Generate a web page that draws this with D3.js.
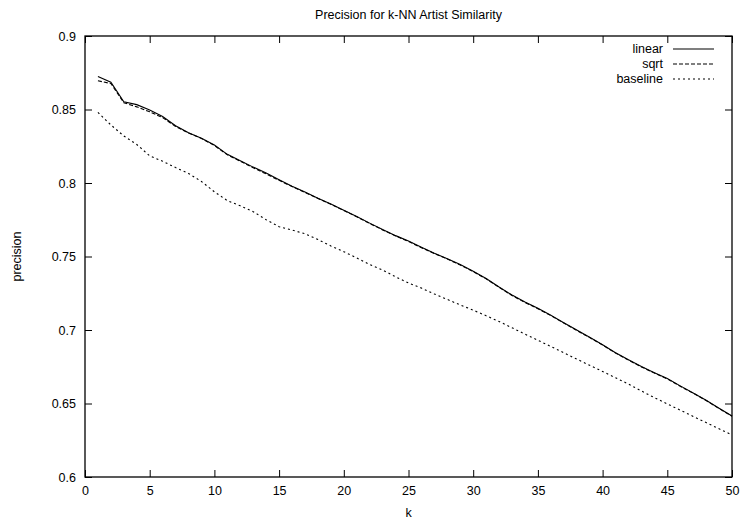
<!DOCTYPE html>
<html>
<head>
<meta charset="utf-8">
<script src="https://cdn.jsdelivr.net/npm/d3@7"></script>
<style>
  body { margin: 0; background: #fff; }
  svg { display: block; font-family: "Liberation Sans", Arial, sans-serif; }
</style>
</head>
<body>
<div id="chart"></div>
<script>
// values
const kValues = d3.range(1, 51);

const linear = [
  0.8725, 0.8685, 0.8552, 0.8533, 0.8497, 0.8452, 0.8390, 0.8342, 0.8305, 0.8258,
  0.8195, 0.8152, 0.8108, 0.8068, 0.8022, 0.7978, 0.7938, 0.7897, 0.7857, 0.7815,
  0.7772, 0.7727, 0.7683, 0.7642, 0.7605, 0.7563, 0.7522, 0.7485, 0.7445, 0.7400,
  0.7350, 0.7292, 0.7238, 0.7190, 0.7148, 0.7100, 0.7050, 0.7000, 0.6950, 0.6900,
  0.6845, 0.6797, 0.6752, 0.6710, 0.6670, 0.6620, 0.6572, 0.6522, 0.6468, 0.6415
];

const sqrt = [
  0.8695, 0.8677, 0.8546, 0.8518, 0.8484, 0.8445, 0.8385, 0.8340, 0.8303, 0.8255,
  0.8192, 0.8148, 0.8103, 0.8062, 0.8018, 0.7976, 0.7935, 0.7895, 0.7855, 0.7813,
  0.7770, 0.7725, 0.7681, 0.7640, 0.7602, 0.7560, 0.7520, 0.7483, 0.7442, 0.7397,
  0.7348, 0.7290, 0.7235, 0.7187, 0.7145, 0.7098, 0.7047, 0.6997, 0.6948, 0.6898,
  0.6843, 0.6795, 0.6749, 0.6707, 0.6667, 0.6617, 0.6570, 0.6520, 0.6466, 0.6413
];

const baseline = [
  0.8480, 0.8395, 0.8320, 0.8262, 0.8185, 0.8148, 0.8105, 0.8065, 0.8010, 0.7940,
  0.7880, 0.7845, 0.7805, 0.7750, 0.7703, 0.7680, 0.7655, 0.7615, 0.7572, 0.7533,
  0.7490, 0.7445, 0.7408, 0.7362, 0.7320, 0.7285, 0.7245, 0.7208, 0.7170, 0.7135,
  0.7097, 0.7058, 0.7015, 0.6972, 0.6930, 0.6888, 0.6845, 0.6802, 0.6760, 0.6718,
  0.6675, 0.6632, 0.6585, 0.6540, 0.6497, 0.6455, 0.6412, 0.6370, 0.6328, 0.6286
];

const xTicks = d3.range(0, 51, 5);
const yTicks = [0.6, 0.65, 0.7, 0.75, 0.8, 0.85, 0.9];

const seriesList = [
  { name: 'linear', values: linear, dash: null },
  { name: 'sqrt', values: sqrt, dash: '4,2' },
  { name: 'baseline', values: baseline, dash: '2,3' }
];

const width = 743, height = 523;
const margin = { top: 36, right: 11, bottom: 46, left: 85 };
const innerWidth = width - margin.left - margin.right;
const innerHeight = height - margin.top - margin.bottom;

const svg = d3.select('#chart')
  .append('svg')
  .attr('width', width)
  .attr('height', height);

const g = svg.append('g')
  .attr('transform', `translate(${margin.left},${margin.top})`);

const x = d3.scaleLinear().domain([0, 50]).range([0, innerWidth]);
const y = d3.scaleLinear().domain([0.6, 0.9]).range([innerHeight, 0]);

const tickLen = 7;

// ticks pointing inward, mirrored on all sides like gnuplot
const bottomAxis = g.append('g')
  .attr('transform', `translate(0,${innerHeight})`)
  .call(d3.axisBottom(x).tickValues(xTicks).tickSize(-tickLen).tickPadding(9).tickFormat(d3.format('d')));
const topAxis = g.append('g')
  .call(d3.axisTop(x).tickValues(xTicks).tickSize(-tickLen));
const leftAxis = g.append('g')
  .call(d3.axisLeft(y).tickValues(yTicks).tickSize(-tickLen).tickPadding(9).tickFormat(d => String(+d.toFixed(2))));
const rightAxis = g.append('g')
  .attr('transform', `translate(${innerWidth},0)`)
  .call(d3.axisRight(y).tickValues(yTicks).tickSize(-tickLen));

[bottomAxis, topAxis, leftAxis, rightAxis].forEach(a => {
  a.select('.domain').remove();
  a.selectAll('line').attr('stroke', '#000');
  a.selectAll('text').attr('fill', '#000').style('font-size', '12.5px');
});
// mirrored sides carry no labels
topAxis.selectAll('text').remove();
rightAxis.selectAll('text').remove();

// frame
g.append('rect')
  .attr('width', innerWidth)
  .attr('height', innerHeight)
  .attr('fill', 'none')
  .attr('stroke', '#000')
  .attr('stroke-width', 1.3);

const line = d3.line()
  .x((d, i) => x(kValues[i]))
  .y(d => y(d));

g.selectAll('.series')
  .data(seriesList)
  .join('path')
  .attr('class', 'series')
  .attr('d', d => line(d.values))
  .attr('fill', 'none')
  .attr('stroke', '#000')
  .attr('stroke-width', 1.1)
  .attr('stroke-dasharray', d => d.dash);

// legend
const legend = g.append('g')
  .attr('transform', `translate(${innerWidth - 69},${13})`);

const rows = legend.selectAll('.row')
  .data(seriesList)
  .join('g')
  .attr('class', 'row')
  .attr('transform', (d, i) => `translate(0,${i * 15})`);

rows.append('text')
  .attr('x', 0)
  .attr('dy', '0.35em')
  .attr('text-anchor', 'end')
  .style('font-size', '12.5px')
  .text(d => d.name);

rows.append('line')
  .attr('x1', 10)
  .attr('x2', 51)
  .attr('stroke', '#000')
  .attr('stroke-width', 1.1)
  .attr('stroke-dasharray', d => d.dash);

// title and axis labels
svg.append('text')
  .attr('x', margin.left + innerWidth / 2)
  .attr('y', 19)
  .attr('text-anchor', 'middle')
  .style('font-size', '12.5px')
  .text('Precision for k-NN Artist Similarity');

svg.append('text')
  .attr('x', margin.left + innerWidth / 2)
  .attr('y', 517)
  .attr('text-anchor', 'middle')
  .style('font-size', '12.5px')
  .text('k');

svg.append('text')
  .attr('transform', `translate(21,${margin.top + innerHeight / 2}) rotate(-90)`)
  .attr('text-anchor', 'middle')
  .style('font-size', '12.5px')
  .text('precision');
</script>
</body>
</html>
